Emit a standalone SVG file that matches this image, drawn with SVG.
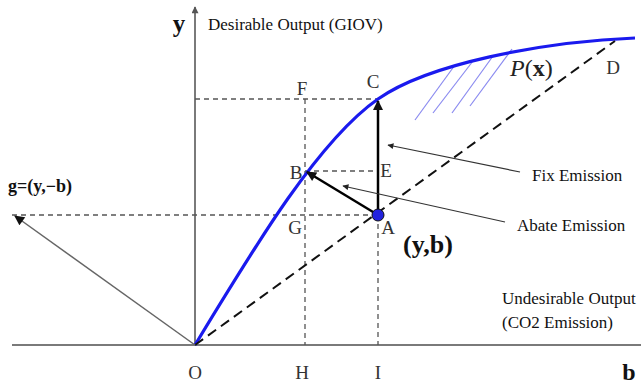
<svg xmlns="http://www.w3.org/2000/svg" width="641" height="384" viewBox="0 0 641 384">
<defs>
<style>
.axis{stroke:#7a7a7a;stroke-width:2;fill:none}
.guide{stroke:#555;stroke-width:1.3;stroke-dasharray:5,4;fill:none}
.ray{stroke:#111;stroke-width:2;stroke-dasharray:10,6;fill:none}
.vec{stroke:#000;stroke-width:2.5;fill:none}
.ptr{stroke:#333;stroke-width:1.2;fill:none}
.hatch{stroke:#8a8af0;stroke-width:1.2}
.lbl{font-family:"Liberation Serif","Times New Roman",serif;font-size:19px;fill:#333}
.txt{font-family:"Liberation Serif","Times New Roman",serif;font-size:17px;fill:#111}
.big{font-family:"Liberation Serif","Times New Roman",serif;font-weight:bold;fill:#111}
</style>
<marker id="ahs" viewBox="0 0 10 10" refX="9" refY="5" markerWidth="8" markerHeight="6" orient="auto" markerUnits="userSpaceOnUse"><path d="M0,0 L10,5 L0,10 z" fill="#222"/></marker>
<marker id="ahg" viewBox="0 0 10 10" refX="9" refY="5" markerWidth="12" markerHeight="10" orient="auto" markerUnits="userSpaceOnUse"><path d="M0,0 L10,5 L0,10 z" fill="#111"/></marker>
<marker id="ahy" viewBox="0 0 10 10" refX="9" refY="5" markerWidth="10" markerHeight="7" orient="auto" markerUnits="userSpaceOnUse"><path d="M0,0 L10,5 L0,10 z" fill="#555"/></marker>
</defs>

<g id="axes">
<line class="axis" x1="195" y1="345" x2="195" y2="7" marker-end="url(#ahy)"/>
<line class="axis" x1="12" y1="345" x2="641" y2="345"/>
</g>

<g id="guides">
<line class="guide" x1="195" y1="99" x2="378" y2="99"/>
<line class="guide" x1="305" y1="99" x2="305" y2="345"/>
<line class="guide" x1="305" y1="171" x2="378" y2="171"/>
<line class="guide" x1="12" y1="215" x2="378" y2="215"/>
<line class="guide" x1="378" y1="215" x2="378" y2="345"/>
</g>

<g id="hatching">
<line class="hatch" x1="415" y1="120" x2="455" y2="65"/>
<line class="hatch" x1="433" y1="113" x2="473" y2="61"/>
<line class="hatch" x1="452" y1="113" x2="493" y2="56"/>
<line class="hatch" x1="470" y1="106" x2="512" y2="49"/>
</g>

<g id="frontier">
<path d="M195,345 C255,246 318,141 378,99 C428,64 540,42 635,38" stroke="#1a1aee" stroke-width="3.2" fill="none"/>
</g>

<g id="connectors">
<line class="ray" x1="195" y1="345" x2="615" y2="41"/>
<line x1="195" y1="345" x2="15" y2="216" stroke="#666" stroke-width="1.5" marker-end="url(#ahg)"/>
<line class="vec" x1="378" y1="215" x2="378" y2="101" marker-end="url(#ahg)"/>
<line class="vec" x1="378" y1="215" x2="307" y2="172" marker-end="url(#ahg)"/>
<line class="ptr" x1="520" y1="172" x2="388" y2="145" marker-end="url(#ahs)"/>
<line class="ptr" x1="505" y1="222" x2="343" y2="186" marker-end="url(#ahs)"/>
</g>

<g id="pointA">
<circle cx="378" cy="215" r="6" fill="#2222dd" stroke="#111" stroke-width="1"/>
</g>

<g id="labels">
<text class="big" x="179" y="32" font-size="25" text-anchor="middle">y</text>
<text class="txt" x="208" y="30" font-size="19">Desirable Output (GIOV)</text>
<text class="lbl" x="302" y="95" text-anchor="middle">F</text>
<text class="lbl" x="373" y="88" text-anchor="middle">C</text>
<text class="lbl" x="386" y="177" text-anchor="middle">E</text>
<text class="lbl" x="296" y="179" text-anchor="middle">B</text>
<text class="lbl" x="295" y="234" text-anchor="middle">G</text>
<text class="lbl" x="388" y="234" text-anchor="middle">A</text>
<text class="lbl" x="613" y="74" text-anchor="middle">D</text>
<text class="lbl" x="195" y="379" text-anchor="middle">O</text>
<text class="lbl" x="302" y="379" text-anchor="middle">H</text>
<text class="lbl" x="378" y="379" text-anchor="middle">I</text>
<text class="big" x="629" y="380" font-size="24" text-anchor="middle">b</text>
<text x="510" y="76" font-family="Liberation Serif,serif" font-size="24" fill="#222"><tspan font-style="italic">P</tspan>(<tspan font-weight="bold">x</tspan>)</text>
<text class="txt" x="532" y="181">Fix Emission</text>
<text class="txt" x="517" y="231">Abate Emission</text>
<text class="big" x="403" y="253" font-size="26">(y,b)</text>
<text class="txt" x="502" y="304">Undesirable Output</text>
<text class="txt" x="502" y="328">(CO2 Emission)</text>
<text class="big" x="8" y="192" font-size="18">g=(y,−b)</text>
</g>
</svg>
